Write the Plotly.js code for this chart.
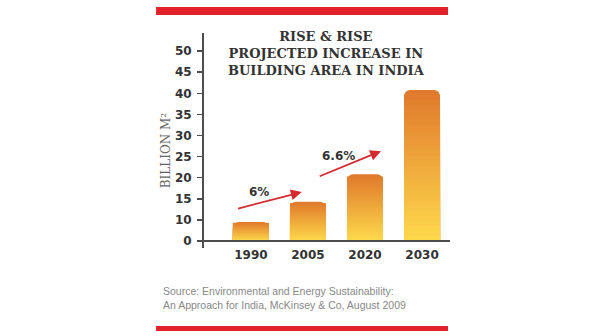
<!DOCTYPE html>
<html>
<head>
<meta charset="utf-8">
<script src="https://cdn.plot.ly/plotly-3.0.1.min.js"></script>
<style>html,body{margin:0;padding:0;background:#fff;}#chart{width:596px;height:336px;}</style>
</head>
<body>
<div id="chart"></div>
<script>
// ---- data ----
const years = ['1990', '2005', '2020', '2030'];
const buildingArea = [9.5, 14.3, 20.8, 40.8];          // billion m², read on the chart's own scale
const tickVals = [5, 10, 15, 20, 25, 30, 35, 40, 45, 50];
const tickText = ['0', '10', '15', '20', '25', '30', '35', '40', '45', '50'];
const growthLabels = ['6%', '6.6%'];
const titleLines = ['RISE &amp; RISE', 'PROJECTED INCREASE IN', 'BUILDING AREA IN INDIA'];
const sourceLines = ['Source: Environmental and Energy Sustainability:', 'An Approach for India, McKinsey &amp; Co, August 2009'];

// ---- gradient bars built as overlaid layers ----
const floorVal = tickVals[0];
const N = 30;
const colTop = [224, 122, 44], colBottom = [253, 216, 75];
function mix(t) {
  const c = colTop.map((v, i) => Math.round(v + (colBottom[i] - v) * t));
  return 'rgb(' + c.join(',') + ')';
}
const traces = [];
for (let k = 0; k < N; k++) {
  const frac = (N - k) / N;
  traces.push({
    type: 'bar',
    x: years,
    y: buildingArea.map(v => (v - floorVal) * frac),
    base: floorVal,
    width: 0.63,
    marker: { color: mix(k / (N - 1)), line: { width: 0 }, cornerradius: k === 0 ? 6 : 0 },
    hoverinfo: 'skip',
    showlegend: false
  });
}

const red = '#e3212b';
const axisCol = '#4d4d4d';
const layout = {
  width: 596, height: 336,
  margin: { l: 203, r: 146, t: 33, b: 95 },
  paper_bgcolor: '#fff', plot_bgcolor: '#fff',
  barmode: 'overlay',
  showlegend: false,
  xaxis: {
    type: 'category', range: [-0.84, 3.49], showgrid: false, zeroline: false, showline: false,
    ticks: '', ticklabelstandoff: 5,
    tickfont: { family: 'DejaVu Sans', size: 12, color: '#333', weight: 'bold' }
  },
  yaxis: {
    range: [floorVal, 54.3], tickvals: tickVals, ticktext: tickText,
    showgrid: false, zeroline: false, showline: false,
    ticks: 'outside', ticklen: 5, tickwidth: 1.5, tickcolor: axisCol, ticklabelstandoff: 3,
    tickfont: { family: 'DejaVu Sans', size: 12, color: '#333', weight: 'bold' }
  },
  shapes: [
    { type: 'rect', xref: 'paper', yref: 'paper', x0: -0.19, x1: 0.992, y0: 1.0865, y1: 1.125, fillcolor: red, line: { width: 0 } },
    { type: 'rect', xref: 'paper', yref: 'paper', x0: -0.19, x1: 0.992, y0: -0.433, y1: -0.409, fillcolor: red, line: { width: 0 } },
    { type: 'line', xref: 'paper', yref: 'paper', x0: 0, x1: 0, y0: -0.034, y1: 1, line: { color: axisCol, width: 2 }, layer: 'above' },
    { type: 'line', xref: 'paper', yref: 'paper', x0: -0.016, x1: 1, y0: 0, y1: 0, line: { color: axisCol, width: 2 }, layer: 'above' }
  ],
  annotations: [
    { xref: 'paper', yref: 'paper', x: 0.5, y: 1.03, xanchor: 'center', yanchor: 'top', showarrow: false,
      text: titleLines.join('<br>'), align: 'center',
      font: { family: 'DejaVu Serif', size: 13, color: '#333', weight: 'bold' } },
    { xref: 'paper', yref: 'paper', x: -0.185, y: 0.4375, textangle: -90, showarrow: false,
      text: 'BILLION M²', font: { family: 'DejaVu Serif', size: 12, color: '#666' } },
    { xref: 'paper', yref: 'paper', x: -0.17, y: -0.2, xanchor: 'left', yanchor: 'top', showarrow: false, align: 'left',
      text: sourceLines.join('<br>'), font: { family: 'Liberation Sans', size: 10.5, color: '#888' } },
    // growth arrows
    { x: 0.89, y: 16.6, ax: -0.25, ay: 12.6, xref: 'x', yref: 'y', axref: 'x', ayref: 'y', text: '',
      showarrow: true, arrowhead: 2, arrowsize: 1.2, arrowwidth: 1.8, arrowcolor: '#d42a2f' },
    { x: 2.28, y: 26.3, ax: 1.18, ay: 20.2, xref: 'x', yref: 'y', axref: 'x', ayref: 'y', text: '',
      showarrow: true, arrowhead: 2, arrowsize: 1.2, arrowwidth: 1.8, arrowcolor: '#d42a2f' },
    { x: 0.14, y: 16.6, xref: 'x', yref: 'y', showarrow: false, text: growthLabels[0],
      font: { family: 'DejaVu Sans', size: 12, color: '#333', weight: 'bold' } },
    { x: 1.53, y: 25.1, xref: 'x', yref: 'y', showarrow: false, text: growthLabels[1],
      font: { family: 'DejaVu Sans', size: 12, color: '#333', weight: 'bold' } }
  ]
};
Plotly.newPlot('chart', traces, layout, { displayModeBar: false, staticPlot: true });
</script>
</body>
</html>
